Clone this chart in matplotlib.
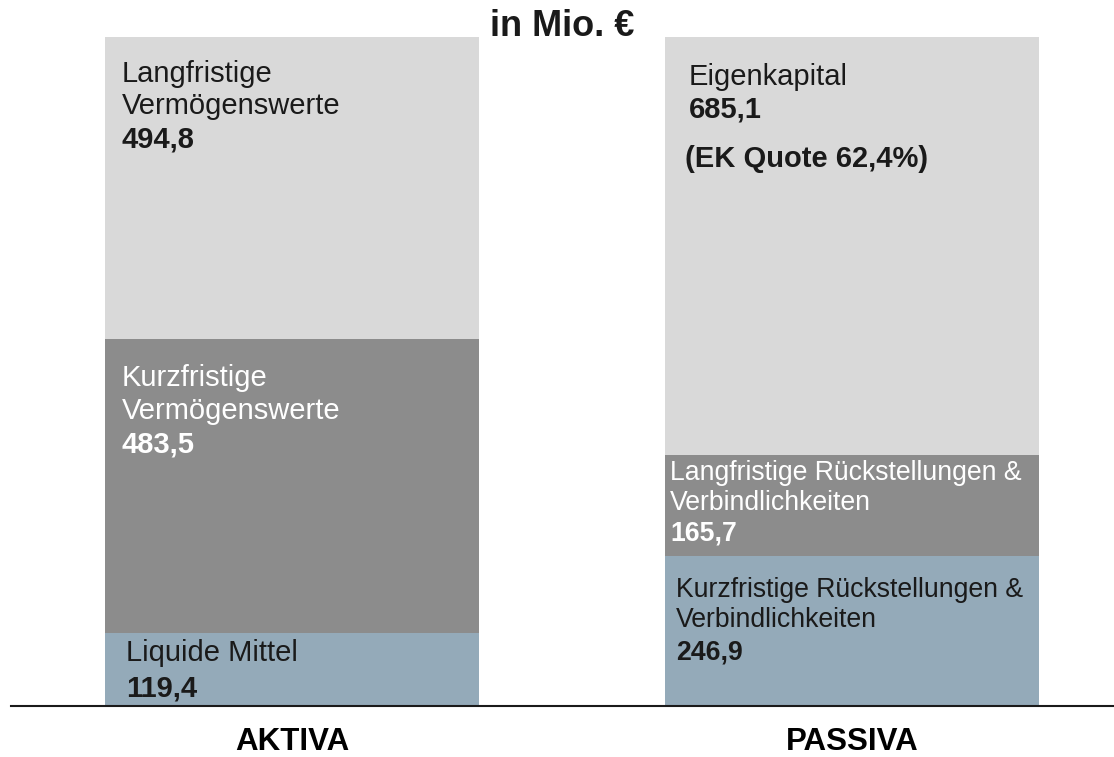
import numpy as np
import matplotlib.pyplot as plt

plt.rcParams['font.family'] = ['Liberation Sans', 'DejaVu Sans']

# data (Mio. EUR), bottom to top
columns = ["AKTIVA", "PASSIVA"]
aktiva_names = ["Liquide Mittel", "Kurzfristige\nVermögenswerte", "Langfristige\nVermögenswerte"]
aktiva_values = [119.4, 483.5, 494.8]
passiva_names = ["Kurzfristige Rückstellungen &\nVerbindlichkeiten",
                 "Langfristige Rückstellungen &\nVerbindlichkeiten", "Eigenkapital"]
passiva_values = [246.9, 165.7, 685.1]
ek_quote = "(EK Quote 62,4%)"

colors = ["#94aab9", "#8c8c8c", "#d9d9d9"]
text_colors = ["#1a1a1a", "white", "#1a1a1a"]

W, H = 1114, 757
fig = plt.figure(figsize=(W / 100, H / 100), dpi=100)
# axes in pixel terms: baseline at y=706, bar tops at y=37
ax = fig.add_axes([0, (H - 706) / H, 1, (706 - 37) / H])
total = sum(aktiva_values)
ax.set_ylim(0, total)
ax.set_xlim(-292 / 560, (W - 292) / 560)
ax.axis('off')

bw = 374 / 560

def fmt(v):
    return f"{v:.1f}".replace(".", ",")

# per-segment label offsets in pixels: (dx, dy name, dy number, fontsize)
aktiva_off = [(21, -20, -55, 21), (17, -56, -106, 21), (17, -53, -103, 21)]
passiva_off = [(11, -49, -97, 19.2), (5, -33, -79, 19.2), (24, -40, -72, 21)]

for i, (names, vals, offs) in enumerate([(aktiva_names, aktiva_values, aktiva_off),
                                         (passiva_names, passiva_values, passiva_off)]):
    bottom = 0
    for j, (n, v) in enumerate(zip(names, vals)):
        ax.bar(i, v, bottom=bottom, width=bw, color=colors[j], linewidth=0)
        top = bottom + v
        x0 = i - bw / 2
        dx, dyn, dyv, fs = offs[j]
        ax.annotate(n, (x0, top), xytext=(dx, dyn), textcoords='offset pixels',
                    ha='left', va='center', fontsize=fs, color=text_colors[j],
                    linespacing=1.2)
        ax.annotate(fmt(v), (x0, top), xytext=(dx, dyv), textcoords='offset pixels',
                    ha='left', va='center', fontsize=fs, fontweight='bold',
                    color=text_colors[j])
        bottom = top
    # category label
    ax.annotate(columns[i], (i, 0), xytext=(0, -36), textcoords='offset pixels',
                ha='center', va='center', fontsize=22.5, fontweight='bold', color='black')

# EK quote under Eigenkapital
ax.annotate(ek_quote, (1 - bw / 2, total), xytext=(20, -122), textcoords='offset pixels',
            ha='left', va='center', fontsize=21, fontweight='bold', color='#1a1a1a')

# baseline
ax.axhline(0, xmin=11 / W, xmax=1, color='#1a1a1a', linewidth=1.5, clip_on=False)

fig.text(562 / W, 1 - 27 / H, "in Mio. €", ha='center', va='center',
         fontsize=26, fontweight='bold', color='#1a1a1a')

fig.savefig("out.png", dpi=100)
